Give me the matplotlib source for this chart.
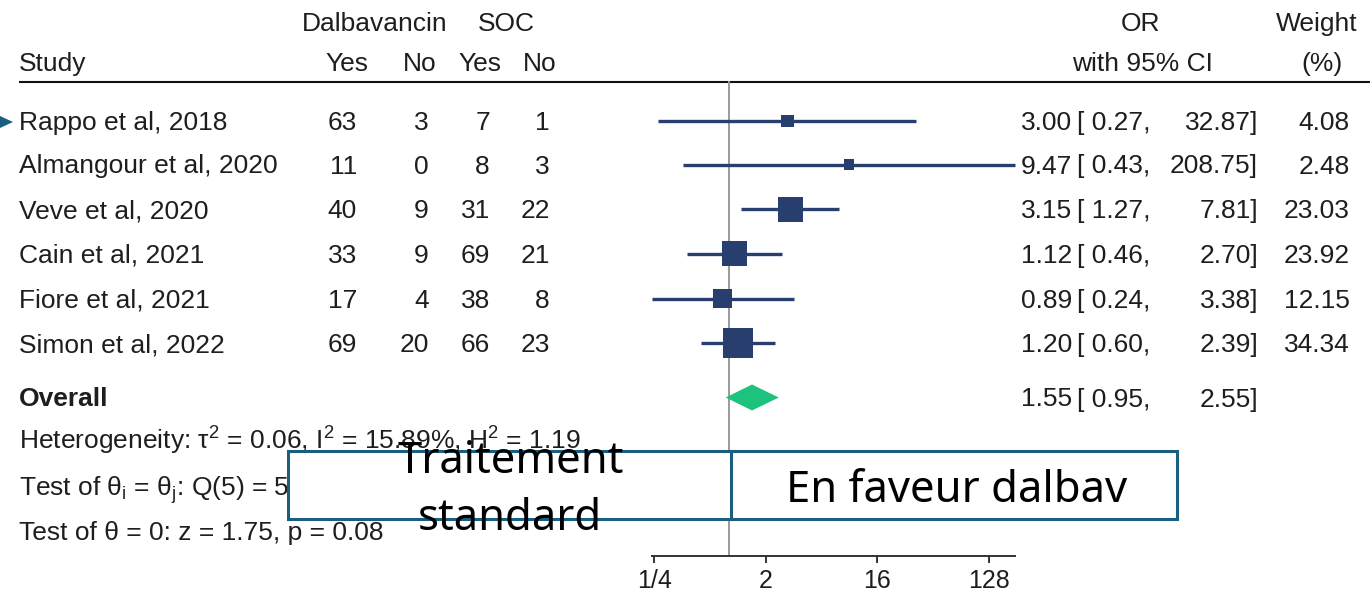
import matplotlib
matplotlib.use("Agg")
import matplotlib.pyplot as plt
from matplotlib.patches import Polygon, Rectangle
from matplotlib.ticker import NullLocator
import numpy as np

# ---- data -------------------------------------------------------------
studies = ["Rappo et al, 2018", "Almangour et al, 2020", "Veve et al, 2020",
           "Cain et al, 2021", "Fiore et al, 2021", "Simon et al, 2022"]
dalba_yes = [63, 11, 40, 33, 17, 69]
dalba_no = [3, 0, 9, 9, 4, 20]
soc_yes = [7, 8, 31, 69, 38, 66]
soc_no = [1, 3, 22, 21, 8, 23]
odds_ratio = [3.00, 9.47, 3.15, 1.12, 0.89, 1.20]
ci_low = [0.27, 0.43, 1.27, 0.46, 0.24, 0.60]
ci_high = [32.87, 208.75, 7.81, 2.70, 3.38, 2.39]
weight = [4.08, 2.48, 23.03, 23.92, 12.15, 34.34]
overall_or = 1.55
overall_low = 0.95
overall_high = 2.55
tick_values = [0.25, 2, 16, 128]
tick_labels = ["1/4", "2", "16", "128"]
heterogeneity = "Heterogeneity: τ$^2$ = 0.06, I$^2$ = 15.89%, H$^2$ = 1.19"
test_homog = r"Test of θ$_\mathregular{i}$ = θ$_\mathregular{j}$: Q(5) = 5"
test_effect = "Test of θ = 0: z = 1.75, p = 0.08"

# ---- layout / style ---------------------------------------------------
W, H, DPI = 1370, 594, 100
row_y = [121, 164.5, 209.3, 253.7, 298.7, 343.3]
overall_y = 397.5
NAVY = "#283E6E"
GREEN = "#1DC27E"
TEAL = "#1B5F80"
TXT = "#1e1e1e"
FS = 19

plt.rcParams["font.family"] = ["Liberation Sans", "DejaVu Sans"]
plt.rcParams["mathtext.fontset"] = "custom"
plt.rcParams["mathtext.rm"] = "Liberation Sans"
plt.rcParams["mathtext.it"] = "Liberation Sans:italic"
plt.rcParams["mathtext.bf"] = "Liberation Sans:bold"

fig = plt.figure(figsize=(W / DPI, H / DPI), dpi=DPI)
fig.patch.set_facecolor("white")


def pixel_axes(z):
    ax = fig.add_axes([0, 0, 1, 1], zorder=z)
    ax.set_xlim(0, W)
    ax.set_ylim(H, 0)
    ax.axis("off")
    ax.patch.set_alpha(0)
    return ax


canvas = pixel_axes(1)


def txt(x, y, s, ha="left", **kw):
    canvas.text(x, y, s, ha=ha, va="baseline", fontsize=kw.pop("fontsize", FS),
                color=TXT, **kw)


# column headers
txt(374.5, 31, "Dalbavancin", ha="center")
txt(506.5, 31, "SOC", ha="center")
txt(1141, 31, "OR", ha="center")
txt(1317, 31, "Weight", ha="center")
txt(19, 71, "Study")
for x, s in zip([347, 419.5, 480, 540], ["Yes", "No", "Yes", "No"]):
    txt(x, 71, s, ha="center")
txt(1142, 71, "with 95% CI", ha="center")
txt(1322, 71, "(%)", ha="center")
canvas.plot([19, W], [81.5, 81.5], color="#111111", lw=1.5, solid_capstyle="butt")

# study rows
BASE = 9
for i, y in enumerate(row_y):
    b = y + BASE
    txt(19, b, studies[i])
    txt(357, b, str(dalba_yes[i]), ha="right")
    txt(429, b, str(dalba_no[i]), ha="right")
    txt(490, b, str(soc_yes[i]), ha="right")
    txt(550, b, str(soc_no[i]), ha="right")
    txt(1072, b, f"{odds_ratio[i]:.2f}", ha="right")
    txt(1077, b, f"[ {ci_low[i]:.2f},")
    txt(1258, b, f"{ci_high[i]:.2f}]", ha="right")
    txt(1350, b, f"{weight[i]:.2f}", ha="right")

b = overall_y + BASE
txt(19, b, "Overall", fontweight="bold")
txt(1072, b, f"{overall_or:.2f}", ha="right")
txt(1077, b, f"[ {overall_low:.2f},")
txt(1258, b, f"{overall_high:.2f}]", ha="right")

txt(19, 450, heterogeneity)
txt(19, 496, test_homog)
txt(19, 540, test_effect)

# ---- forest panel (log2 odds-ratio axis) -------------------------------
X_ONE = 728.5          # pixel column of OR = 1
PX_PER_DOUBLING = 37.2
AX_L, AX_R, AX_T, AX_B = 640, 1030, 81, 556
forest = fig.add_axes([AX_L / W, 1 - AX_B / H, (AX_R - AX_L) / W, (AX_B - AX_T) / H],
                      zorder=2)
forest.set_xscale("log", base=2)
forest.set_xlim(2 ** ((AX_L - X_ONE) / PX_PER_DOUBLING),
                2 ** ((AX_R - X_ONE) / PX_PER_DOUBLING))
forest.set_ylim(AX_B, AX_T)
forest.patch.set_alpha(0)
for side in ["top", "right", "left"]:
    forest.spines[side].set_visible(False)
forest.spines["bottom"].set_bounds(min(ci_low), max(ci_high))
forest.spines["bottom"].set_linewidth(1.4)
forest.spines["bottom"].set_color("#333333")
forest.set_yticks([])
forest.set_xticks(tick_values)
forest.set_xticklabels(tick_labels)
forest.xaxis.set_minor_locator(NullLocator())
forest.tick_params(axis="x", length=5, width=1.4, pad=4, labelsize=18,
                   color="#333333", labelcolor=TXT)

forest.axvline(1, color="#9a9a9a", lw=1.4, zorder=1)
forest.hlines(row_y, ci_low, ci_high, color=NAVY, lw=2.4, zorder=3)
side_pt = [(4.6 * np.sqrt(w) + 3) * 72 / DPI for w in weight]
forest.scatter(odds_ratio, row_y, marker="s", s=np.square(side_pt), color=NAVY,
               linewidths=0, zorder=4)
half_h = 13
forest.add_patch(Polygon([(overall_low, overall_y), (overall_or, overall_y - half_h),
                          (overall_high, overall_y), (overall_or, overall_y + half_h)],
                         closed=True, facecolor=GREEN, edgecolor="none", zorder=4))

# ---- annotation boxes ---------------------------------------------------
over = pixel_axes(3)
over.add_patch(Rectangle((288, 451), 733 - 288, 68, facecolor="white",
                         edgecolor=TEAL, lw=2.2, zorder=1))
over.add_patch(Rectangle((731, 451), 1177 - 731, 68, facecolor="white",
                         edgecolor=TEAL, lw=2.2, zorder=1))
over.add_patch(Polygon([(0, 116), (13, 122), (0, 128)], closed=True,
                       facecolor=TEAL, edgecolor="none"))
big = dict(fontsize=31.4, family=["Noto Sans", "DejaVu Sans"], color="black",
           va="baseline", ha="center", zorder=5)
over.text(511, 473, "Traitement", **big)
over.text(510, 530, "standard", **big)
over.text(956.5, 501.5, "En faveur dalbav", **big)

fig.savefig("out.png", dpi=DPI, facecolor="white")
